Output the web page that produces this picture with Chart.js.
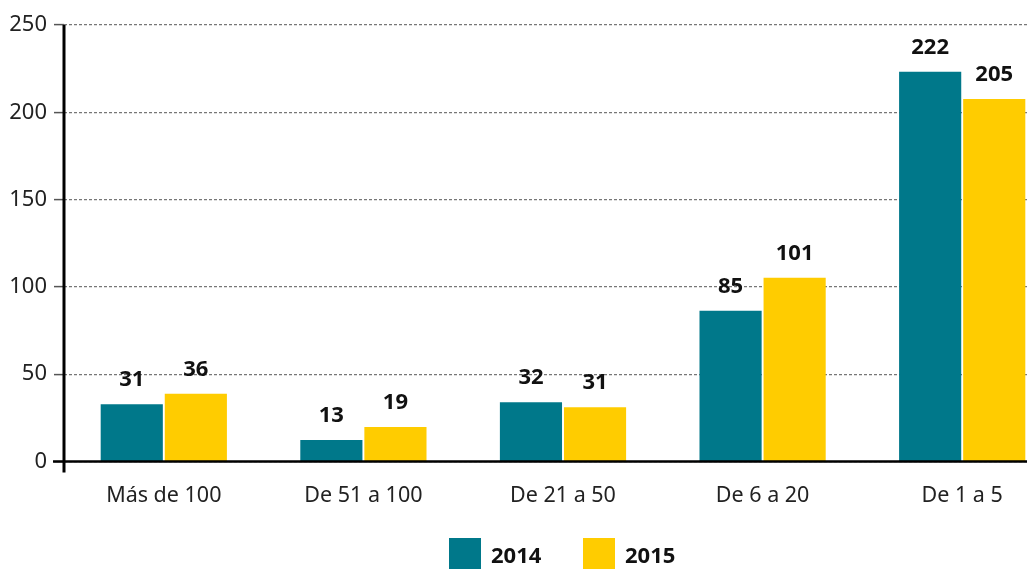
<!DOCTYPE html>
<html>
<head>
<meta charset="utf-8">
<script src="https://cdn.jsdelivr.net/npm/chart.js@4.4.1/dist/chart.umd.min.js"></script>
<style>
  html, body { margin: 0; padding: 0; background: #fff; overflow: hidden; }
  #wrap { position: relative; width: 1062px; height: 569px; }
  .legend { position: absolute; top: 538px; height: 32px; display: flex; align-items: center;
    font-family: "Noto Sans", "Open Sans", sans-serif; font-weight: bold; font-size: 22px; color: #111; }
  .legend span.box { display: inline-block; width: 32px; height: 32px; margin-right: 10px; }
</style>
</head>
<body>
<div id="wrap">
  <canvas id="chart"></canvas>
  <div class="legend" style="left:449px"><span class="box" style="background:#00788a"></span>2014</div>
  <div class="legend" style="left:583px"><span class="box" style="background:#ffcc00"></span>2015</div>
</div>
<script>
// categories
const categories = ["Más de 100", "De 51 a 100", "De 21 a 50", "De 6 a 20", "De 1 a 5"];

// bar heights as drawn in the picture
const values2014 = [32.8, 12.3, 34, 86.4, 223.2];
const values2015 = [38.8, 19.8, 31.1, 105.3, 207.6];

// numbers printed above the bars
const labels2014 = ["31", "13", "32", "85", "222"];
const labels2015 = ["36", "19", "31", "101", "205"];

const yTicks = [0, 50, 100, 150, 200, 250];

const teal = "#00788a";
const yellow = "#ffcc00";
const fontFamily = '"Noto Sans", "Open Sans", sans-serif';

// value labels over the bars
const barLabels = {
  id: "barLabels",
  afterDatasetsDraw(chart) {
    const ctx = chart.ctx;
    const texts = [labels2014, labels2015];
    ctx.save();
    ctx.font = "bold 22px " + fontFamily;
    ctx.fillStyle = "#111";
    ctx.textAlign = "center";
    ctx.textBaseline = "alphabetic";
    chart.data.datasets.forEach((ds, i) => {
      chart.getDatasetMeta(i).data.forEach((bar, j) => {
        ctx.fillText(texts[i][j], bar.x, bar.y - 18);
      });
    });
    ctx.restore();
  }
};

// black zero line and the little stub of the y axis under it
const axisLines = {
  id: "axisLines",
  afterDraw(chart) {
    const ctx = chart.ctx;
    const area = chart.chartArea;
    const y0 = chart.scales.y.getPixelForValue(0);
    ctx.save();
    ctx.strokeStyle = "#000";
    ctx.lineWidth = 2.5;
    ctx.beginPath();
    ctx.moveTo(area.left - 11, y0);
    ctx.lineTo(chart.width, y0);
    ctx.stroke();
    ctx.lineWidth = 3;
    ctx.beginPath();
    ctx.moveTo(area.left, area.top);
    ctx.lineTo(area.left, y0 + 11);
    ctx.stroke();
    ctx.restore();
  }
};

new Chart(document.getElementById("chart"), {
  type: "bar",
  data: {
    labels: categories,
    datasets: [
      { label: "2014", data: values2014, backgroundColor: teal },
      { label: "2015", data: values2015, backgroundColor: yellow }
    ]
  },
  options: {
    responsive: true,
    maintainAspectRatio: false,
    animation: false,
    datasets: {
      bar: { categoryPercentage: 0.642, barPercentage: 0.97 }
    },
    layout: { padding: { top: 25, bottom: 47.5, left: 0, right: 0 } },
    plugins: {
      legend: { display: false },
      tooltip: { enabled: false }
    },
    scales: {
      x: {
        grid: { display: false, drawTicks: false },
        border: { display: false },
        ticks: {
          padding: 21,
          color: "#222",
          font: { family: fontFamily, size: 21.5 }
        },
        afterFit(scale) { scale.height = 60; }
      },
      y: {
        min: 0,
        max: 250,
        afterBuildTicks(scale) { scale.ticks = yTicks.map(v => ({ value: v })); },
        grid: {
          color: "#777",
          lineWidth: 1.2,
          drawTicks: true,
          tickLength: 10,
          tickColor: "#555",
          tickWidth: 1.5,
          tickBorderDash: []
        },
        border: { display: false, dash: [3, 2] },
        ticks: {
          padding: 7,
          color: "#222",
          font: { family: fontFamily, size: 22 }
        },
        afterFit(scale) { scale.width = 64; }
      }
    }
  },
  plugins: [barLabels, axisLines]
});
</script>
</body>
</html>
